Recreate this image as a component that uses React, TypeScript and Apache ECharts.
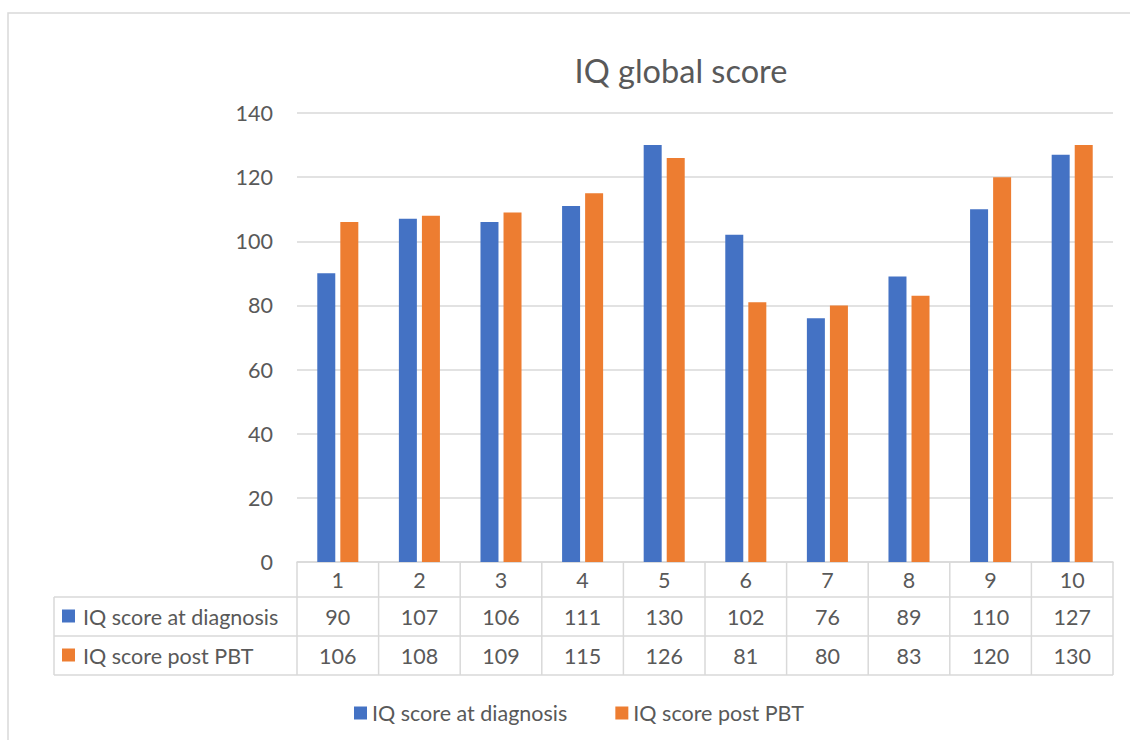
import React, { useEffect, useRef } from "react";
import * as echarts from "echarts";

const categories = ["1", "2", "3", "4", "5", "6", "7", "8", "9", "10"];
const seriesNames = ["IQ score at diagnosis", "IQ score post PBT"];
const atDiagnosis = [90, 107, 106, 111, 130, 102, 76, 89, 110, 127];
const postPBT = [106, 108, 109, 115, 126, 81, 80, 83, 120, 130];
const colors = ["#4472C4", "#ED7D31"];

const W = 1130;
const H = 740;
const GL = 297;
const GR = 1113;
const GT = 113;
const GB = 562;
const ROW1 = 597;
const ROW2 = 636;
const ROW3 = 675;
const TL = 54;
const FONT = "Lato, 'Open Sans', sans-serif";
const TEXT = "#595959";
const LINE = "#D9D9D9";
const FS = 21.5;

export default function App() {
  const ref = useRef<HTMLDivElement>(null);
  useEffect(() => {
    document.body.style.margin = "0";
    const chart = echarts.init(ref.current!, null, { renderer: "svg" });
    const catW = (GR - GL) / categories.length;
    const graphics: any[] = [];
    const ls = { stroke: LINE, lineWidth: 1.5 };
    graphics.push({ type: "rect", shape: { x: 8, y: 13, width: W + 20, height: H + 20 }, style: { fill: "none", stroke: LINE, lineWidth: 1.5 }, silent: true });
    [ROW1, ROW2, ROW3].forEach((y) => {
      graphics.push({ type: "line", shape: { x1: TL, y1: y, x2: GR, y2: y }, style: ls, silent: true });
    });
    for (let i = 0; i <= categories.length; i++) {
      const x = GL + i * catW;
      graphics.push({ type: "line", shape: { x1: x, y1: GB, x2: x, y2: ROW3 }, style: ls, silent: true });
    }
    graphics.push({ type: "line", shape: { x1: TL, y1: ROW1, x2: TL, y2: ROW3 }, style: ls, silent: true });
    const rows = [atDiagnosis, postPBT];
    const rowY = [(ROW1 + ROW2) / 2, (ROW2 + ROW3) / 2];
    rows.forEach((vals, r) => {
      graphics.push({ type: "rect", shape: { x: 62, y: rowY[r] - 7, width: 13, height: 13 }, style: { fill: colors[r] }, silent: true });
      graphics.push({ type: "text", x: 83, y: rowY[r], style: { text: seriesNames[r], fill: TEXT, font: `${FS}px ${FONT}`, textVerticalAlign: "middle", textAlign: "left" }, silent: true });
      vals.forEach((v, i) => {
        graphics.push({ type: "text", x: GL + (i + 0.5) * catW, y: rowY[r], style: { text: String(v), fill: TEXT, font: `${FS}px ${FONT}`, textAlign: "center", textVerticalAlign: "middle" }, silent: true });
      });
    });

    chart.setOption({
      animation: false,
      backgroundColor: "#fff",
      title: {
        text: "IQ global score",
        left: 676,
        top: 49,
        textAlign: "center",
        textStyle: { fontFamily: FONT, fontSize: 32.5, fontWeight: "normal", color: TEXT },
      },
      legend: {
        data: seriesNames,
        left: 354,
        top: 702,
        padding: 0,
        icon: "rect",
        itemWidth: 13,
        itemHeight: 13,
        itemGap: 48,
        textStyle: { fontFamily: FONT, fontSize: FS, color: TEXT },
      },
      grid: { left: GL, right: W - GR, top: GT, bottom: H - GB, containLabel: false },
      xAxis: {
        type: "category",
        data: categories,
        axisLine: { show: true, lineStyle: { color: LINE, width: 1.5 } },
        axisTick: { show: false },
        axisLabel: { fontFamily: FONT, fontSize: FS, color: TEXT, margin: 7 },
      },
      yAxis: {
        type: "value",
        min: 0,
        max: 140,
        interval: 20,
        axisLine: { show: false },
        axisTick: { show: false },
        axisLabel: { fontFamily: FONT, fontSize: FS, color: TEXT, margin: 24 },
        splitLine: { lineStyle: { color: LINE, width: 1.5 } },
      },
      series: [
        { name: seriesNames[0], type: "bar", data: atDiagnosis, barWidth: 18, barGap: "28%", itemStyle: { color: colors[0] } },
        { name: seriesNames[1], type: "bar", data: postPBT, barWidth: 18, barGap: "28%", itemStyle: { color: colors[1] } },
      ],
      graphic: graphics,
    });
    return () => chart.dispose();
  }, []);
  return <div ref={ref} style={{ position: "fixed", left: 0, top: 0, width: W, height: H }} />;
}
